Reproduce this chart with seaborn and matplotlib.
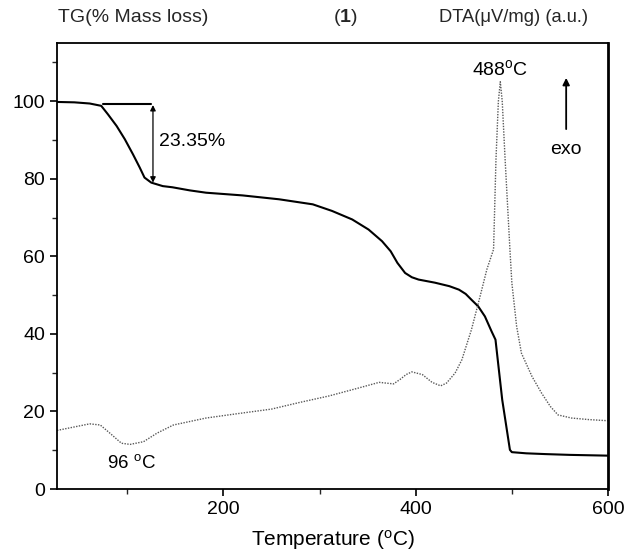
import numpy as np
import pandas as pd
import matplotlib
matplotlib.use("Agg")
import matplotlib.pyplot as plt
import seaborn as sns

# TG curve (% mass)
tg_temp = [27, 45, 61, 73, 80, 89, 97.5, 106, 113, 118, 125, 137, 147, 165, 182, 220, 258, 293, 313,
           334, 351, 365, 374, 381, 389, 396, 403, 420, 435, 445, 452, 458, 465, 472, 479, 483, 490,
           498, 500, 515, 535, 560, 600]
tg_mass = [99.8, 99.7, 99.4, 98.8, 96.6, 93.6, 90.2, 86.3, 82.9, 80.3, 79.0, 78.1, 77.8, 77.0, 76.4,
           75.7, 74.7, 73.4, 71.7, 69.5, 66.9, 63.9, 61.3, 58.3, 55.7, 54.6, 54.0, 53.2, 52.3, 51.4,
           50.3, 48.8, 47.1, 44.5, 40.6, 38.5, 23.0, 10.1, 9.5, 9.2, 9.0, 8.8, 8.6]

# DTA curve (a.u., drawn on the same scale)
dta_temp = [27, 45, 61, 72, 82, 94, 103, 117, 131, 148, 182, 214, 250, 279, 310, 340, 362, 377, 384,
            390, 396, 407, 417, 426, 432, 441, 448, 453, 458, 467, 474, 481, 483.5, 486, 488, 490,
            493, 498, 500, 505, 510, 521, 531, 540, 548, 562, 580, 600]
dta_val = [15.1, 16.0, 16.8, 16.5, 14.4, 11.8, 11.5, 12.2, 14.4, 16.5, 18.3, 19.4, 20.6, 22.3, 24.0,
           26.0, 27.5, 27.1, 28.3, 29.5, 30.2, 29.5, 27.5, 26.6, 27.3, 29.9, 33.3, 37.2, 41.1, 49.7,
           56.6, 61.8, 85.0, 100.0, 105.0, 100.0, 85.0, 61.8, 53.2, 41.9, 35.0, 29.0, 24.7, 21.3,
           19.1, 18.3, 17.9, 17.6]

x_ticks = [200, 400, 600]
y_ticks = [0, 20, 40, 60, 80, 100]

tg_df = pd.DataFrame({"T": tg_temp, "v": tg_mass})
dta_df = pd.DataFrame({"T": dta_temp, "v": dta_val})

sns.set_theme(style="white")
plt.rcParams["font.family"] = ["Liberation Sans", "DejaVu Sans"]
plt.rcParams["mathtext.fontset"] = "custom"
plt.rcParams["mathtext.rm"] = "Liberation Sans"
plt.rcParams["mathtext.bf"] = "Liberation Sans:bold"
plt.rcParams["mathtext.it"] = "Liberation Sans:italic"

fig = plt.figure(figsize=(6.29, 5.55), dpi=100)
ax = fig.add_axes([57/629, 1-489/555, (608-57)/629, (489-43)/555])

sns.lineplot(data=tg_df, x="T", y="v", ax=ax, color="black", lw=1.5, estimator=None, sort=False)
sns.lineplot(data=dta_df, x="T", y="v", ax=ax, color="0.35", lw=1.0, linestyle=(0, (1, 1)),
             estimator=None, sort=False)

ax.set_xlim(27, 600)
ax.set_ylim(0, 115)
ax.set_xticks(x_ticks)
ax.set_yticks(y_ticks)
ax.set_xticks([100, 300, 500], minor=True)
ax.set_yticks([10, 30, 50, 70, 90, 110], minor=True)
ax.tick_params(axis="both", which="major", direction="out", length=5, width=1.2,
               labelsize=14, colors="black", bottom=True, left=True, top=False, right=False)
ax.tick_params(axis="both", which="minor", direction="out", length=3.5, width=1.0,
               bottom=True, left=True, top=False, right=False)
for s in ax.spines.values():
    s.set_color("black")
    s.set_linewidth(1.3)
ax.spines["right"].set_linewidth(2.0)

ax.set_xlabel("Temperature ($^{\\rm o}$C)", fontsize=15, color="black", labelpad=7)
ax.set_ylabel("")

# annotations
ax.plot([75, 125], [99.2, 99.2], color="black", lw=1.5)
ax.annotate("", xy=(126.8, 79.0), xytext=(126.8, 99.0),
            arrowprops=dict(arrowstyle="<|-|>", color="black", lw=0.9, mutation_scale=8,
                            shrinkA=0, shrinkB=0))
ax.text(133, 89.5, "23.35%", fontsize=14, va="center", ha="left", color="black")
ax.text(488, 108.3, "488$^{\\rm o}$C", fontsize=14, va="center", ha="center", color="black")
ax.text(104, 6.7, "96 $^{\\rm o}$C", fontsize=13.5, va="center", ha="center", color="black")
ax.annotate("", xy=(556.5, 106.0), xytext=(556.5, 92.8),
            arrowprops=dict(arrowstyle="-|>", color="black", lw=1.3, mutation_scale=10,
                            shrinkA=0, shrinkB=0))
ax.text(556.5, 87.5, "exo", fontsize=14, va="center", ha="center", color="black")

fig.text(58/629, 1-18/555, "TG(% Mass loss)", fontsize=14, va="center", ha="left")
fig.text(345/629, 1-18/555, "($\\mathbf{1}$)", fontsize=14, va="center", ha="center")
fig.text(588/629, 1-18/555, "DTA(\u03bcV/mg) (a.u.)", fontsize=13.2, va="center", ha="right")

fig.savefig("out.png", dpi=100)
